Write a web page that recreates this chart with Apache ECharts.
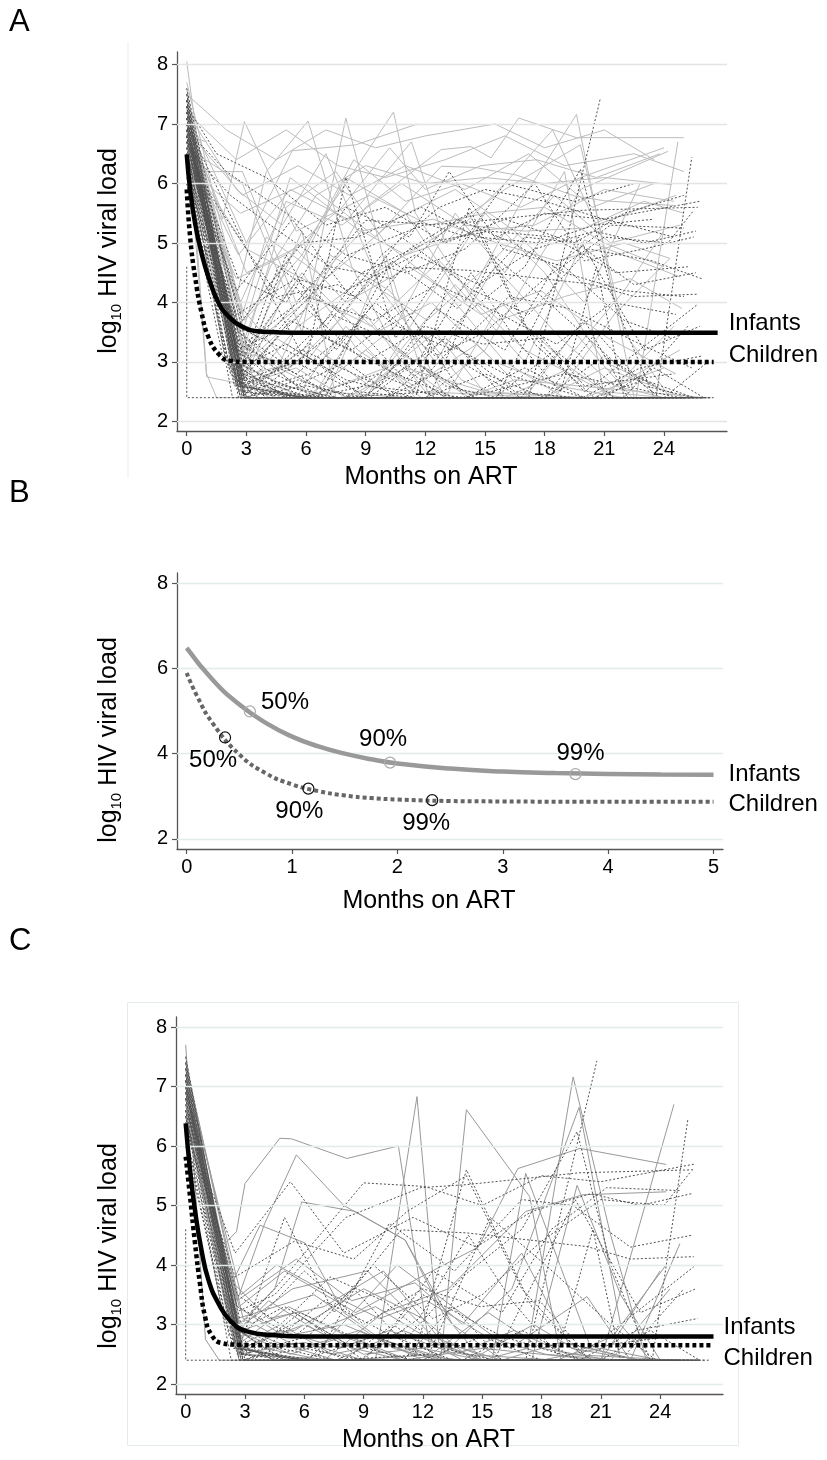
<!DOCTYPE html>
<html><head><meta charset="utf-8">
<script src="https://cdn.jsdelivr.net/npm/echarts@6/dist/echarts.min.js"></script>
<style>html,body{margin:0;padding:0;background:#fff}#c{width:827px;height:1460px}</style>
</head><body><div id="c"></div>
<script>
// ---------- tick labels ----------
const xTicksAC = [0,3,6,9,12,15,18,21,24];
const yTicksAC = [2,3,4,5,6,7,8];
const xTicksB = [0,1,2,3,4,5];
const yTicksB = [2,4,6,8];
const groupNames = ['Infants','Children'];
const milestoneLabels = ['50%','90%','99%'];

// ---------- individual trajectories (flat: month, log10 VL, ...) ----------
const infantsA = [
[0,8.05, 0.5,6.8, 1.6,4.4, 3.0,2.4, 26.0,2.4],
[0,6.8, 1.0,6.7],
[0,7.3, 1.0,2.8, 1.5,2.4, 13.0,2.4],
[0,6.9, 1.0,2.75, 3.2,2.6, 6.0,2.4, 26.3,2.4],
[0,7.1, 1.8,5.4, 2.9,7.04, 5.5,5.2, 9.2,5.8, 12.2,5.3, 15.0,5.5, 18.0,5.6, 21.0,5.0, 24.0,4.6],
[0,6.9, 2.5,4.1, 4.0,6.2, 6.1,7.05, 8.3,4.6, 10.5,3.2, 14.0,2.5, 20.0,2.4, 24.5,2.4],
[0,7.2, 3.0,5.0, 5.3,6.55, 8.5,6.65, 11.6,7.0],
[0,6.6, 2.8,6.0, 5.8,3.5, 8.0,7.1, 10.5,4.0, 13.0,2.4, 25.0,2.4],
[0,7.0, 3.0,4.5, 6.0,5.0, 10.4,7.2, 11.5,5.5, 14.5,4.0, 17.0,3.2, 21.0,2.5, 24.0,2.4],
[0,6.4, 0.8,6.2, 2.8,6.2, 5.5,4.0, 8.8,5.2, 11.0,4.8, 14.5,5.2, 17.5,5.3, 21.0,5.9, 24.5,5.7],
[0,7.4, 3.0,3.0, 6.0,3.9, 9.0,5.6, 12.8,6.57, 14.3,6.62, 15.3,6.43, 16.7,7.1, 19.6,6.77, 25.0,6.77],
[0,6.7, 2.7,2.6, 5.0,4.2, 8.0,6.1, 11.0,5.5, 14.0,4.0, 17.0,5.8, 19.6,7.16, 22.5,2.4, 24.0,2.4],
[0,7.0, 2.9,2.8, 6.0,3.0, 9.5,4.5, 13.0,5.2, 16.0,5.9, 19.8,6.65, 22.0,3.5, 24.3,2.4],
[0,6.5, 3.0,2.4, 12.0,2.4, 15.0,3.2, 19.8,5.9, 24.2,6.54],
[0,7.2, 2.5,3.4, 6.3,2.4, 9.0,3.8, 12.0,2.5, 18.0,2.4, 22.6,2.4, 24.7,6.7],
[0,6.3, 2.7,5.5, 6.0,6.0, 9.5,5.1, 12.8,6.29, 14.5,6.27, 16.6,6.14, 19.5,5.79, 21.0,5.71, 24.5,5.63],
[0,7.6, 2.6,2.9, 5.0,5.6, 7.5,6.2, 10.0,5.0, 13.0,4.2, 16.0,3.0, 19.0,2.4, 25.5,2.4],
[0,6.2, 2.8,3.8, 4.0,5.1, 7.0,4.4, 10.5,5.4, 13.5,5.9, 16.5,5.2, 20.0,4.0, 22.8,6.0],
[0,7.1, 2.9,2.4, 5.5,2.4, 8.0,3.6, 11.5,2.4, 18.5,2.4, 21.5,3.8, 24.3,4.74],
[0,6.8, 2.5,3.0, 4.2,4.6, 6.5,5.8, 9.0,6.3, 12.0,6.0, 15.0,6.1, 18.0,6.0, 21.0,6.1, 24.4,5.98],
[0,7.3, 2.6,2.6, 6.0,2.4, 10.0,2.9, 13.5,4.3, 17.0,3.0, 20.0,5.05, 24.8,4.43],
[0,6.0, 2.4,3.2, 4.7,3.0, 7.2,4.8, 10.2,4.2, 13.8,2.7, 16.0,2.4, 24.0,2.4],
[0,7.5, 2.8,3.5, 5.2,6.1, 8.7,5.2, 12.4,5.4, 15.6,5.0, 18.6,4.7, 22.0,5.0, 24.3,4.74],
[0,6.9, 2.9,2.5, 6.2,3.3, 9.2,2.6, 12.5,3.5, 15.2,2.4, 20.5,2.4, 24.8,3.2],
[0,7.0, 2.7,4.0, 5.0,5.7, 7.8,5.3, 10.8,6.0, 14.0,5.3, 17.0,5.2, 20.0,5.25, 23.0,5.7, 25.0,5.5],
[0,6.6, 3.0,2.4, 7.0,2.4, 10.0,4.8, 12.2,2.4, 17.0,2.4, 19.5,3.5, 22.4,2.4, 25.0,2.4],
[0,7.2, 2.5,5.9, 4.8,5.3, 7.0,6.5, 9.8,4.2, 12.5,3.0, 15.5,4.6, 18.8,3.4, 21.5,2.6, 24.0,2.4],
[0,6.4, 2.8,2.8, 4.5,3.4, 7.5,2.8, 10.5,3.6, 13.5,5.5, 16.0,4.5, 19.0,6.2, 21.0,2.4, 24.5,2.4],
[0,7.7, 2.3,4.5, 3.5,2.4, 9.0,2.4, 12.0,4.0, 15.0,5.5, 18.0,4.5, 21.0,3.0, 23.6,2.6],
[0,6.7, 2.9,3.1, 5.8,4.5, 8.6,3.2, 11.4,2.6, 14.6,3.3, 17.3,2.4, 25.6,2.4],
[0,7.1, 2.6,3.6, 5.5,4.9, 8.0,4.0, 11.2,4.6, 14.8,3.8, 17.8,4.2, 21.2,3.4, 24.6,2.8],
[0,6.5, 3.0,4.9, 6.4,4.3, 9.0,3.4, 12.3,4.0, 15.5,3.0, 18.6,2.6, 22.0,2.4],
[0,7.3, 2.4,2.6, 5.8,5.2, 7.5,2.4, 13.0,2.4, 15.8,4.0, 19.0,3.0, 22.0,4.2, 24.0,5.2],
[0,6.9, 2.8,3.9, 5.2,2.9, 8.3,3.9, 11.0,3.1, 14.2,2.4, 21.0,2.4, 24.5,3.6],
[0,7.0, 2.9,2.4, 16.0,2.4, 19.3,2.9, 21.5,2.4, 26.0,2.4],
[0,7.4, 2.7,3.0, 4.4,2.4, 8.5,2.4, 10.8,3.0, 13.3,2.4, 26.2,2.4],
[0,6.2, 2.5,4.4, 5.0,4.8, 7.8,5.6, 10.2,6.6, 12.0,5.9, 14.8,6.3, 17.6,6.4, 20.6,6.1, 23.8,6.5],
[0,6.8, 2.8,2.5, 5.6,3.6, 8.9,4.4, 12.1,3.7, 15.4,4.7, 18.5,5.8, 21.3,5.0, 24.8,5.3],
[0,7.5, 2.0,6.9, 4.5,6.4, 7.0,6.9, 9.5,6.6, 12.0,6.8, 15.5,7.0, 18.0,6.6, 21.0,6.9, 23.5,6.4],
[0,7.2, 2.5,6.4, 5.0,6.9, 7.6,6.3, 10.0,6.1, 13.0,6.4, 16.0,6.8, 19.0,6.3, 22.5,6.5, 25.0,6.2],
[0,6.9, 2.8,5.8, 5.6,6.3, 8.2,5.8, 11.0,6.3, 14.0,5.9, 17.2,6.5, 20.4,5.6, 23.5,6.0],
[0,6.4, 2.5,2.7, 4.2,2.4, 18.0,2.4, 21.0,2.9, 25.0,2.4],
[0,7.0, 2.7,2.6, 5.5,2.9, 8.0,2.4, 14.0,2.4, 16.5,2.7, 26.0,2.4],
[0,6.7, 2.4,3.0, 5.0,2.6, 7.5,2.4, 22.0,2.4],
[0,7.3, 2.9,3.7, 5.8,4.8, 8.4,6.4, 11.0,5.7, 13.8,6.0, 16.8,5.6, 19.8,6.1, 24.0,6.6],
[0,6.6, 2.6,4.8, 5.2,5.9, 8.1,5.4, 11.3,6.7, 13.0,5.0, 16.0,6.0, 18.4,6.9, 20.6,5.3, 24.6,5.8],
[0,7.1, 2.8,2.8, 6.0,2.4, 9.0,3.2, 11.8,2.4, 25.0,2.4],
[0,6.5, 2.3,3.6, 4.6,2.9, 7.0,2.5, 11.0,2.4, 24.5,2.4],
[0,7.4, 2.9,3.2, 6.3,4.1, 9.3,3.6, 12.7,4.7, 15.7,3.7, 19.0,4.1, 22.3,4.4, 24.9,3.9],
[0,6.8, 2.7,2.4, 8.0,2.4, 11.0,2.9, 15.0,2.5, 20.0,2.4, 24.0,2.9]
];
const childrenBoth = [
[0,4.6, 0,2.4, 3.0,2.4, 26.5,2.4],
[0,6.8, 2.5,3.2, 4.5,3.5, 8.1,4.8, 11.9,5.3, 14.2,5.35, 19.9,5.55, 25.7,5.6],
[0,7.0, 2.8,3.0, 4.5,3.6, 9.0,5.38, 12.1,5.32, 15.0,5.0, 18.0,5.5, 21.0,5.4, 25.8,5.7],
[0,6.5, 2.7,2.6, 6.0,2.4, 14.0,2.4, 17.2,2.4, 20.8,7.43],
[0,7.2, 2.9,2.4, 9.0,2.4, 12.0,3.5, 16.0,2.8, 20.0,2.4, 23.6,2.4, 25.4,6.44],
[0,6.9, 2.6,3.3, 5.5,2.8, 8.5,3.6, 11.0,2.7, 14.0,3.8, 17.0,4.6, 19.8,6.24, 21.5,4.0, 23.5,2.4],
[0,7.1, 2.8,2.7, 5.0,4.8, 7.5,3.2, 10.9,4.59, 14.2,4.54, 20.3,4.31, 22.5,4.1, 25.7,4.14],
[0,6.3, 2.5,3.8, 5.5,4.4, 8.5,4.1, 11.2,4.9, 14.2,5.5, 17.0,3.6, 20.0,2.5, 22.0,3.0, 25.7,3.97],
[0,7.4, 2.9,2.5, 6.2,2.8, 9.5,4.0, 12.5,3.1, 15.0,3.5, 18.0,4.4, 21.0,5.1, 24.2,5.0, 25.5,5.55],
[0,6.7, 2.7,2.9, 5.0,3.3, 8.0,2.7, 11.5,2.4, 14.2,5.6, 17.5,3.3, 20.5,2.4, 25.0,2.4],
[0,6.0, 2.4,2.6, 6.6,2.4, 10.3,4.7, 13.6,3.9, 17.0,5.1, 19.6,5.0, 22.5,4.3, 25.6,4.5],
[0,7.0, 3.0,2.4, 8.8,2.4, 11.8,3.1, 14.3,4.5, 16.5,3.4, 18.8,2.5, 20.6,4.6, 22.0,2.4, 25.2,3.6],
[0,6.6, 2.6,3.5, 4.8,3.0, 7.3,3.8, 10.0,3.4, 13.0,2.6, 15.6,2.4, 19.7,5.1, 23.0,3.2, 25.8,3.6],
[0,7.3, 2.8,2.8, 6.0,3.9, 9.0,3.0, 12.0,3.6, 14.9,3.3, 17.9,3.4, 20.0,2.6, 24.5,2.8],
[0,6.8, 2.9,2.4, 7.5,2.4, 12.3,2.5, 15.4,4.8, 18.2,4.0, 21.5,3.0, 23.8,2.4, 26.0,2.4],
[0,6.4, 2.5,4.2, 5.3,5.4, 8.0,4.2, 11.5,4.8, 14.7,4.3, 17.5,4.9, 20.5,5.2, 23.0,5.0, 25.6,5.2],
[0,7.1, 2.7,2.4, 5.8,3.2, 9.7,2.6, 12.5,3.9, 16.0,3.2, 18.5,4.6, 21.3,5.3, 25.0,5.25],
[0,6.2, 2.3,3.0, 4.0,2.6, 7.0,3.4, 10.5,2.8, 13.5,2.4, 19.9,2.4, 22.8,2.9, 25.9,3.1],
[0,7.3, 2.8,2.4, 6.0,2.6, 9.0,2.4, 24.0,2.4],
[0,7.0, 2.6,2.5, 5.5,2.4, 20.0,2.4],
[0,6.8, 2.4,2.7, 4.5,2.4, 12.0,2.4, 15.0,2.8, 18.0,2.4, 25.0,2.4],
[0,7.2, 2.9,2.6, 6.0,3.1, 9.0,2.4, 26.0,2.4],
[0,6.5, 2.3,2.4, 8.0,2.4, 10.5,3.0, 13.0,2.4, 23.0,2.4],
[0,7.4, 2.7,2.9, 5.0,2.4, 14.0,2.4, 17.0,2.9, 20.0,2.4, 24.5,2.4],
[0,6.9, 2.5,3.0, 4.8,2.6, 7.5,2.4, 19.0,2.4],
[0,7.1, 2.8,2.5, 6.5,2.4, 11.0,2.4, 13.5,3.3, 16.0,2.4, 25.5,2.4],
[0,6.6, 2.2,2.8, 3.6,2.4, 22.0,2.4],
[0,7.5, 2.9,2.4, 5.6,2.7, 8.3,2.4, 21.0,2.4, 23.5,2.9, 26.0,2.4],
[0,6.2, 2.0,3.0, 3.8,2.5, 6.0,2.4, 16.0,2.4],
[0,7.0, 2.7,2.6, 5.8,2.4, 9.6,2.8, 12.6,2.4, 26.3,2.4]
];
const childrenAOnly = [
[0,7.3, 1.5,6.5, 4.0,6.1, 7.0,5.3, 10.0,5.6, 13.0,5.0, 16.0,5.4, 19.5,5.0, 22.0,5.5, 25.0,5.8],
[0,6.9, 2.0,6.2, 5.0,5.5, 8.0,4.8, 11.0,4.5, 14.0,4.9, 17.5,6.0, 20.0,4.7, 23.0,4.9, 25.5,5.1],
[0,6.6, 2.2,5.8, 4.2,5.3, 7.2,4.6, 10.3,4.4, 13.6,5.4, 16.4,5.0, 19.0,4.5, 22.0,4.2, 25.0,4.1],
[0,7.0, 3.0,4.9, 6.0,3.0, 8.0,6.1, 10.5,3.4, 13.0,4.6, 16.0,6.0, 19.5,5.7, 22.5,6.0],
[0,6.8, 2.8,3.7, 5.8,5.0, 8.6,5.1, 11.8,5.6, 14.6,5.1, 17.8,5.0, 20.5,5.3, 23.5,5.4],
[0,7.2, 2.6,2.6, 5.2,3.7, 8.3,3.2, 11.0,3.9, 14.0,2.4, 18.0,2.4, 20.6,3.5, 23.0,2.6, 25.5,2.4],
[0,6.5, 2.9,3.3, 6.0,4.1, 9.4,3.7, 12.6,4.3, 15.8,3.8, 18.6,3.3, 21.4,4.0, 24.6,3.8],
[0,7.4, 2.7,2.9, 4.6,4.6, 7.8,3.8, 10.8,5.1, 14.4,4.2, 17.2,3.8, 20.2,4.9, 23.4,4.7, 25.9,4.4],
[0,6.1, 2.5,3.6, 5.6,3.1, 8.8,4.5, 12.0,5.0, 15.2,5.2, 18.4,5.1, 21.6,4.5, 25.2,4.6],
[0,7.0, 2.8,2.4, 9.2,2.4, 13.0,3.4, 16.5,2.5, 19.5,2.4, 24.0,2.4, 26.2,3.0],
[0,6.7, 2.6,4.4, 5.0,4.0, 8.0,5.6, 11.2,5.1, 13.2,6.2, 15.9,4.9, 19.0,4.6, 22.0,3.7, 24.4,3.4],
[0,7.5, 2.9,2.7, 5.6,2.4, 10.0,2.4, 13.8,3.0, 16.8,2.4, 20.0,3.7, 22.2,2.4, 25.3,2.4],
[0,6.4, 2.4,5.2, 4.6,4.1, 7.6,4.3, 10.6,3.6, 13.4,3.2, 16.2,4.1, 19.2,3.9, 22.8,3.3, 25.4,2.9],
[0,6.9, 2.8,3.1, 5.4,4.3, 7.0,3.6, 9.8,4.8, 12.7,5.6, 15.0,5.9, 18.0,5.7, 21.0,5.4, 24.5,5.1],
[0,6.7, 2.4,3.2, 4.4,2.8, 7.0,2.4, 18.0,2.4, 21.0,3.1, 24.0,2.5],
[0,7.3, 2.6,2.8, 5.3,2.4, 15.5,2.4, 18.5,3.2, 21.5,2.4],
[0,6.4, 2.1,2.9, 4.0,2.4, 10.0,2.4, 12.0,2.9, 14.5,2.4, 24.0,2.4],
[0,7.2, 3.0,3.3, 5.5,2.6, 8.0,3.0, 10.5,2.4, 26.0,2.4],
[0,6.9, 2.7,2.4, 25.0,2.4],
[0,7.6, 2.9,3.0, 4.6,2.5, 7.2,2.4, 20.5,2.4, 23.0,2.7, 25.5,2.4],
[0,6.0, 1.8,3.1, 3.4,2.4, 13.0,2.4],
[0,7.1, 2.5,2.6, 5.0,2.9, 7.5,2.4, 17.0,2.4],
[0,6.8, 2.8,2.8, 6.2,2.4, 9.0,2.6, 14.0,2.4, 19.0,2.8, 24.8,2.4],
[0,7.4, 2.6,2.4, 4.0,2.4, 26.4,2.4],
[0,6.3, 2.2,3.4, 4.2,2.7, 6.8,2.4, 22.5,2.4],
[0,7.0, 2.9,2.7, 5.4,3.0, 8.6,2.5, 11.5,2.4, 25.8,2.4]
];
const infantsC = [
[0,7.7, 1.0,2.75, 1.7,2.4, 12.0,2.4],
[0,7.1, 1.8,4.3, 2.57,4.56, 3.0,5.37, 4.76,6.13, 5.36,6.12, 8.15,5.79, 10.76,6.0, 12.3,2.7, 14.0,2.4, 26.0,2.4],
[0,6.9, 2.6,3.4, 4.0,4.7, 5.6,5.85, 8.0,5.0, 11.1,4.42, 13.0,3.2, 15.0,2.4, 25.0,2.4],
[0,7.3, 2.5,2.6, 6.0,2.4, 9.6,2.4, 11.7,6.83, 12.8,2.7, 15.0,2.4, 25.5,2.4],
[0,6.8, 2.7,3.0, 4.5,3.6, 5.87,5.06, 8.57,4.9, 11.1,4.42, 13.5,3.0, 16.0,2.4, 26.0,2.4],
[0,7.0, 2.2,3.6, 3.76,4.67, 6.04,4.37, 8.0,3.2, 10.5,2.6, 12.9,2.4, 14.2,6.61, 17.4,5.15, 19.0,2.4, 25.0,2.4],
[0,6.6, 2.8,2.6, 6.0,3.0, 9.0,2.5, 12.0,2.6, 15.0,2.4, 17.3,2.6, 19.6,7.16, 21.5,4.5, 23.3,2.4],
[0,7.2, 2.9,2.5, 8.0,2.4, 13.0,2.5, 16.5,3.6, 19.9,6.65, 22.0,3.0, 23.5,2.4],
[0,6.7, 2.6,2.8, 5.5,2.9, 9.0,3.6, 12.0,3.1, 14.5,2.4, 18.0,2.4, 21.0,2.4, 24.7,6.70],
[0,7.4, 2.7,3.3, 5.0,3.9, 8.6,3.2, 11.9,3.8, 14.8,4.3, 16.8,5.62, 19.95,5.96, 24.3,5.69],
[0,6.5, 2.5,2.9, 5.4,3.6, 9.2,3.9, 12.5,2.8, 15.5,2.4, 17.2,5.54, 20.5,2.6, 22.8,2.4],
[0,7.0, 2.8,2.4, 7.0,2.4, 10.0,3.2, 13.3,3.6, 17.2,4.9, 20.1,5.18, 24.3,5.23],
[0,6.9, 2.6,3.1, 6.5,3.5, 9.5,2.8, 13.0,2.4, 17.5,2.4, 19.8,5.34, 22.0,3.5, 24.0,2.4],
[0,7.1, 2.9,2.6, 6.2,2.4, 10.7,4.0, 13.5,3.3, 16.4,2.6, 20.3,3.47, 22.5,2.4, 25.0,4.36],
[0,6.3, 2.4,3.7, 4.2,3.1, 7.0,3.3, 10.0,3.9, 13.0,2.7, 16.0,2.4, 21.0,2.4, 24.0,3.9],
[0,7.5, 2.7,2.4, 12.0,2.4, 15.3,3.2, 18.0,2.6, 21.5,2.4, 24.5,3.6],
[0,6.8, 2.5,3.0, 4.6,2.7, 7.6,2.4, 11.0,2.9, 14.0,2.5, 18.8,2.4, 21.6,2.8, 24.3,4.0],
[0,7.2, 2.8,2.7, 5.2,3.3, 8.2,2.8, 11.3,2.4, 14.4,2.4, 17.6,3.0, 20.6,2.4, 24.6,2.4],
[0,6.4, 2.6,3.4, 5.6,4.1, 8.4,3.4, 11.6,3.7, 14.0,3.0, 17.0,4.2, 19.5,2.6, 23.0,2.4],
[0,7.0, 2.7,2.5, 4.8,2.9, 7.8,2.6, 10.3,2.9, 13.7,2.5, 16.6,2.9, 19.3,2.5, 24.8,2.4],
[0,7.0, 2.5,2.7, 4.5,2.4, 25.0,2.4],
[0,6.6, 2.2,3.0, 4.0,2.6, 7.0,2.4, 20.0,2.4],
[0,7.3, 2.8,2.9, 5.5,3.2, 8.5,2.6, 11.0,2.4, 26.0,2.4],
[0,6.9, 2.6,3.3, 5.0,2.8, 8.0,3.0, 11.5,2.5, 14.0,2.4, 24.0,2.4],
[0,7.1, 2.7,2.5, 6.0,2.7, 9.0,2.4, 16.0,2.4, 19.0,2.7, 23.0,2.4],
[0,6.5, 2.4,2.8, 4.2,3.4, 6.6,2.9, 9.6,3.3, 12.6,2.7, 15.0,2.4, 25.5,2.4],
[0,7.4, 2.9,3.1, 5.8,2.6, 8.8,2.9, 12.0,2.4, 18.0,2.4, 21.0,2.6, 24.0,2.4],
[0,6.8, 2.5,2.6, 4.8,3.0, 7.4,2.5, 10.4,2.7, 13.4,2.4, 26.0,2.4],
[0,7.2, 2.8,3.5, 4.6,4.0, 6.8,3.6, 9.8,3.1, 12.2,3.4, 15.2,2.8, 18.2,2.5, 22.0,2.4],
[0,6.7, 2.6,2.9, 5.3,2.5, 8.0,2.8, 11.0,2.4, 15.0,2.6, 21.0,2.4, 24.5,2.4]
];

// ---------- fitted mean curves ----------
const fitAInfants = [[0,6.49],[0.17,5.9],[0.42,5.33],[0.75,4.82],[1.09,4.43],[1.59,4.0],[2.09,3.77],[2.76,3.6],[3.43,3.52],[4.5,3.5],[6,3.49],[26.7,3.49]];
const fitAChildren = [[0,5.9],[0.17,5.1],[0.42,4.43],[0.75,3.82],[1.09,3.42],[1.59,3.14],[2.17,3.02],[3,3.0],[4.5,3.0],[26.5,3.0]];
const fitBInfants = [[0,6.48],[0.25,5.72],[0.5,5.15],[0.75,4.72],[1,4.4],[1.25,4.17],[1.5,4.0],[1.75,3.87],[2,3.77],[2.5,3.65],[3,3.58],[3.5,3.545],[4,3.525],[4.5,3.51],[5,3.505]];
const fitBChildren = [[0,5.89],[0.1,5.34],[0.25,4.7],[0.5,3.98],[0.75,3.54],[1,3.28],[1.25,3.12],[1.5,3.02],[1.75,2.96],[2,2.925],[2.5,2.89],[3,2.88],[4,2.87],[5,2.87]];
const fitCInfants = [[0,6.38],[0.22,5.6],[0.47,4.92],[0.8,4.25],[1.15,3.75],[1.65,3.36],[2.3,3.05],[3.15,2.88],[4.5,2.82],[6,2.8],[8,2.8],[26.7,2.8]];
const fitCChildren = [[0,5.82],[0.22,5.15],[0.47,4.37],[0.72,3.69],[0.98,3.13],[1.3,2.83],[1.8,2.69],[2.65,2.66],[4,2.65],[26.6,2.65]];

// ---------- milestones (panel B) ----------
const bInfantMilestones = [[0.60,4.99],[1.93,3.79],[3.69,3.52]];
const bChildMilestones = [[0.364,4.38],[1.155,3.18],[2.33,2.91]];

// ================= chart =================
const FONT = '"Liberation Sans", Arial, sans-serif';
const chart = echarts.init(document.getElementById('c'), null, {renderer:'canvas'});

function pairs(f){ const o=[]; for(let i=0;i<f.length;i+=2) o.push([f[i],f[i+1]]); return o; }

const grids = [
  {left:177, top:52, width:550, height:379},
  {left:177, top:573, width:546, height:276},
  {left:176, top:1017, width:547, height:377}
];
const xRanges = [[-0.49,27.17],[-0.092,5.09],[-0.49,27.18]];
const yRanges = [[1.84,8.21],[1.765,8.235],[1.832,8.168]];
const xTicks = [xTicksAC, xTicksB, xTicksAC];
const yTicks = [yTicksAC, yTicksB, yTicksAC];
const gridColors = ['#e4e4e4','#e2ecec','#e2ecec'];
const axisCol = '#555';

const xAxis = grids.map((g,i)=>({
  gridIndex:i, type:'value', min:xRanges[i][0], max:xRanges[i][1],
  axisLine:{show:true, onZero:false, lineStyle:{color:axisCol, width:1.3}},
  axisTick:{show:true, customValues:xTicks[i], length:5, lineStyle:{color:axisCol, width:1.2}},
  axisLabel:{customValues:xTicks[i], fontSize:20, color:'#000', fontFamily:FONT, margin:8},
  splitLine:{show:false},
  name:'Months on ART', nameLocation:'middle', nameGap: i===1?40:34,
  nameTextStyle:{fontSize:25, color:'#000', fontFamily:FONT, padding:[0,42,0,0]}
}));
const yAxis = grids.map((g,i)=>({
  gridIndex:i, type:'value', min:yRanges[i][0], max:yRanges[i][1],
  axisLine:{show:true, onZero:false, lineStyle:{color:axisCol, width:1.3}},
  axisTick:{show:true, customValues:yTicks[i], length:5, lineStyle:{color:axisCol, width:1.2}},
  axisLabel:{customValues:yTicks[i], fontSize:20, color:'#000', fontFamily:FONT, margin:9},
  splitLine:{show:false}
}));

const series = [];
grids.forEach((g,i)=>{
  series.push({type:'line', xAxisIndex:i, yAxisIndex:i, data:[], silent:true, z:0,
    markLine:{silent:true, symbol:['none','none'], animation:false, label:{show:false},
      lineStyle:{color:gridColors[i], width:1.3, type:'solid'},
      data: yTicks[i].map(v=>({yAxis:v}))}});
});
function addTraj(list, gi, color, dash){
  list.forEach(f=>series.push({type:'line', xAxisIndex:gi, yAxisIndex:gi, data:pairs(f),
    symbol:'none', silent:true, z:2, animation:false,
    lineStyle:{color:color, width:1, type: dash ? [2,2] : 'solid'}}));
}
addTraj(infantsA, 0, '#bcbcbc', false);
addTraj(childrenBoth, 0, '#505050', true);
addTraj(childrenAOnly, 0, '#505050', true);
addTraj(infantsC, 2, '#999999', false);
addTraj(childrenBoth, 2, '#505050', true);

function fit(data, gi, name, color, width, dash, off){
  series.push({type:'line', xAxisIndex:gi, yAxisIndex:gi, data:data, symbol:'none', silent:true,
    smooth:0.5, z:5, animation:false,
    lineStyle:{color:color, width:width, type: dash ? [4,3] : 'solid', cap:'butt'},
    endLabel:{show:true, formatter:name, fontSize:24, color:'#000', fontFamily:FONT, distance:0, offset:off}});
}
fit(fitAInfants, 0, groupNames[0], '#000', 4.5, false, [11,-9]);
fit(fitAChildren, 0, groupNames[1], '#000', 4.5, true, [15,-7]);
fit(fitBInfants, 1, groupNames[0], '#999', 4.5, false, [15,0]);
fit(fitBChildren, 1, groupNames[1], '#666', 4, true, [15,3]);
fit(fitCInfants, 2, groupNames[0], '#000', 4.5, false, [10,-9]);
fit(fitCChildren, 2, groupNames[1], '#000', 4.5, true, [12,13]);

const infLabelPos = [{position:'right', offset:[0,-9]},{position:'top', offset:[-7,0]},{position:'top', offset:[5,2]}];
const childLabelPos = [{position:'bottom', offset:[-12,0]},{position:'bottom', offset:[-9,0]},{position:'bottom', offset:[-6,0]}];
function milestones(pts, pos, border){
  series.push({type:'scatter', xAxisIndex:1, yAxisIndex:1, symbol:'circle', symbolSize:11, z:6, silent:true, animation:false,
    itemStyle:{color:'rgba(255,255,255,0)', borderColor:border, borderWidth:1.2, opacity:1},
    label:{show:true, fontSize:24, color:'#000', opacity:1, fontFamily:FONT, distance:5, formatter:p=>milestoneLabels[p.dataIndex]},
    data: pts.map((p,i)=>({value:p, label:pos[i]}))});
}
milestones(bInfantMilestones, infLabelPos, '#aaaaaa');
milestones(bChildMilestones, childLabelPos, '#111111');

function yTitle(cx, cy){
  return {type:'text', x:cx, y:cy, rotation:Math.PI/2, silent:true,
    style:{text:'{n|log}{s|10}{n| HIV viral load}', fill:'#000',
      align:'center', verticalAlign:'middle', textAlign:'center', textVerticalAlign:'middle',
      rich:{n:{fontSize:25, fontFamily:FONT, lineHeight:30, fill:'#000'},
            s:{fontSize:15, fontFamily:FONT, lineHeight:15, verticalAlign:'bottom', fill:'#000'}}}};
}
function letter(t, y){
  return {type:'text', x:9, y:y, silent:true, style:{text:t, font:'31px '+FONT, fill:'#000', textVerticalAlign:'top', verticalAlign:'top'}};
}
const graphic = [
  letter('A', 7), letter('B', 478), letter('C', 926),
  yTitle(109, 251), yTitle(109, 740), yTitle(109, 1246),
  {type:'line', silent:true, shape:{x1:128, y1:42, x2:128, y2:478}, style:{stroke:'#ebebeb', lineWidth:1}},
  {type:'rect', silent:true, shape:{x:127.5, y:1002.5, width:611, height:443}, style:{fill:'none', stroke:'#e3eded', lineWidth:1}}
];

chart.setOption({animation:false, backgroundColor:'#fff', grid:grids, xAxis:xAxis, yAxis:yAxis, series:series, graphic:graphic});
</script></body></html>
